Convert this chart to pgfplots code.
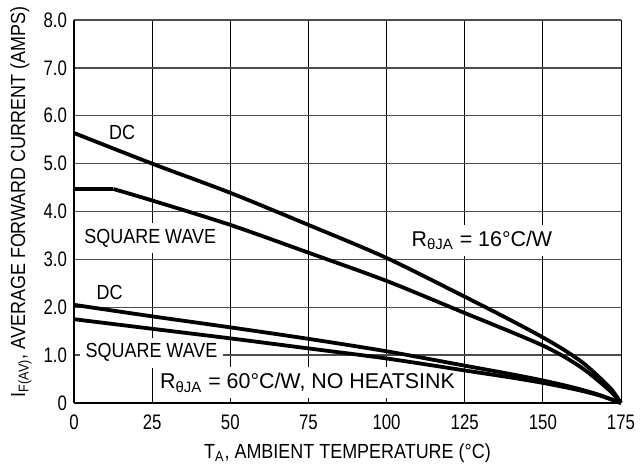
\documentclass[border=0pt]{standalone}
\usepackage{fontspec}
\setmainfont{Liberation Sans}[FakeStretch=0.88]
\newfontfamily\numfont{Liberation Sans}[FakeStretch=0.8]
\newfontfamily\regfont{Liberation Sans}
\usepackage{pgfplots}
\pgfplotsset{compat=1.18}

\begin{document}
\begin{tikzpicture}[font=\fontsize{10.2pt}{11pt}\selectfont]
\begin{axis}[
    scale only axis,
    width=273.5pt, height=191.5pt,
    xmin=0, xmax=175, ymin=0, ymax=8,
    xtick={0,25,...,175},
    xticklabels={0,25,50,75,100,125,150,175},
    ytick={0,1,...,8},
    yticklabels={0,1.0,2.0,3.0,4.0,5.0,6.0,7.0,8.0},
    tick label style={font=\numfont\fontsize{10.5pt}{11pt}\selectfont},
    xticklabel style={yshift=-2.6pt},
    major tick length=0pt,
    axis x line*=bottom, axis y line*=left,
    axis line style={-, line width=1.4pt, black},
    grid=major,
    x grid style={black, line width=0.5pt},
    y grid style={black!70, line width=0.65pt},
    every axis x label/.style={at={(axis description cs:0.5,-0.13)}, anchor=center},
    every axis y label/.style={at={(axis description cs:-0.097,0.525)}, rotate=90, anchor=center},
    xlabel={T\textsubscript{A}, AMBIENT TEMPERATURE (°C)},
    ylabel={I\textsubscript{F(AV)}, AVERAGE FORWARD CURRENT (AMPS)},
    clip=false,
]
% labels first so that the curves lie on top of their white boxes
\node[fill=white, inner sep=2pt] at (axis cs:15.4,5.66) {DC};
\node[fill=white, inner sep=3pt] at (axis cs:24.4,3.44) {SQUARE WAVE};
\node[fill=white, inner sep=3pt, font=\regfont\fontsize{10.7pt}{11pt}\selectfont] at (axis cs:130.5,3.40) {R\textsubscript{θJA} = 16°C/W};
\node[fill=white, inner sep=2pt] at (axis cs:11.4,2.31) {DC};
\node[fill=white, inner sep=3pt] at (axis cs:24.8,1.05) {SQUARE WAVE};
\node[fill=white, inner sep=3pt, font=\regfont\fontsize{10.7pt}{11pt}\selectfont] at (axis cs:74.7,0.42) {R\textsubscript{θJA} = 60°C/W, NO HEATSINK};

% DC, 16 C/W
\addplot[black, line width=1.9pt, smooth] coordinates {
    (0,5.64) (25,5.0) (50,4.39) (75,3.72) (100,3.03) (125,2.22) (140,1.72)
    (150,1.37) (157,1.1) (163,0.83) (168,0.54) (172,0.28) (175,0)
};
% square wave, 16 C/W
\addplot[black, line width=1.9pt] coordinates {(0,4.47) (12.6,4.47)};
\addplot[black, line width=1.9pt, smooth] coordinates {
    (12.6,4.47) (25,4.23) (50,3.72) (75,3.14) (100,2.55) (125,1.88) (140,1.48)
    (150,1.2) (157,0.96) (163,0.71) (168,0.45) (172,0.22) (175,0)
};
% DC, 60 C/W
\addplot[black, line width=1.9pt, smooth] coordinates {
    (0,2.05) (25,1.81) (50,1.58) (75,1.34) (100,1.08) (125,0.78) (140,0.6)
    (150,0.47) (160,0.32) (168,0.17) (175,0)
};
% square wave, 60 C/W
\addplot[black, line width=1.9pt, smooth] coordinates {
    (0,1.75) (25,1.55) (50,1.35) (75,1.14) (100,0.93) (125,0.68) (140,0.53)
    (150,0.42) (160,0.29) (168,0.16) (175,0)
};
\end{axis}
\pgfresetboundingbox
\path (-37pt,-33.5pt) rectangle (284.5pt,201.5pt);
\end{tikzpicture}
\end{document}
